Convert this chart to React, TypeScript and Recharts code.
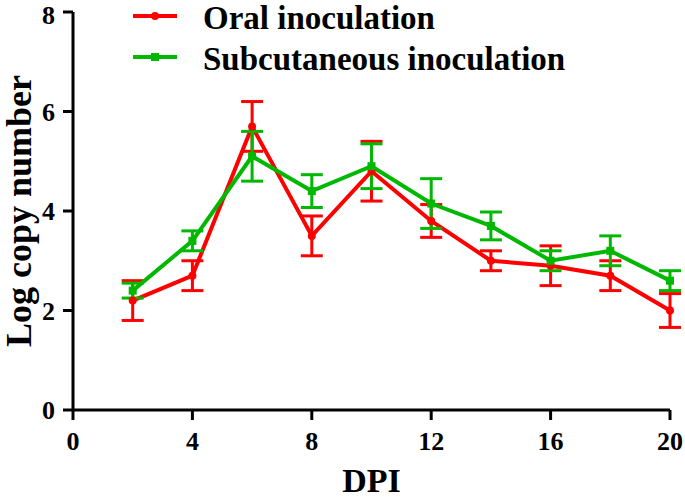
import { LineChart, Line, XAxis, YAxis, ErrorBar, Legend } from 'recharts';

const dpi = [2, 4, 6, 8, 10, 12, 14, 16, 18, 20];
const oral = [2.2, 2.7, 5.7, 3.5, 4.8, 3.8, 3.0, 2.9, 2.7, 2.0];
const oralErr = [0.4, 0.3, 0.5, 0.4, 0.6, 0.33, 0.2, 0.4, 0.3, 0.34];
const subcutaneous = [2.4, 3.4, 5.1, 4.4, 4.9, 4.15, 3.7, 3.0, 3.2, 2.6];
const subcutaneousErr = [0.15, 0.2, 0.5, 0.33, 0.45, 0.5, 0.28, 0.2, 0.3, 0.2];
const xTicks = [0, 4, 8, 12, 16, 20];
const yTicks = [0, 2, 4, 6, 8];

const RED = '#ff0000';
const GREEN = '#00b800';
const FONT = '"Liberation Serif", "Times New Roman", serif';

const data = dpi.map((d, i) => ({
  dpi: d,
  oral: oral[i],
  oralErr: oralErr[i],
  subcutaneous: subcutaneous[i],
  subcutaneousErr: subcutaneousErr[i],
}));

const RedDot = (props: any) => {
  const { cx, cy } = props;
  return <circle cx={cx} cy={cy} r={4} fill={RED} />;
};

const GreenDot = (props: any) => {
  const { cx, cy } = props;
  return <rect x={cx - 4} y={cy - 4} width={8} height={8} fill={GREEN} />;
};

const legendItems = [
  { label: 'Oral inoculation', color: RED, shape: 'circle' },
  { label: 'Subcutaneous inoculation', color: GREEN, shape: 'square' },
];

const CustomLegend = () => (
  <div style={{ fontFamily: FONT, fontWeight: 'bold', fontSize: 33, lineHeight: '36px', color: '#000' }}>
    {legendItems.map((item) => (
      <div key={item.label} style={{ display: 'flex', alignItems: 'flex-start', height: 41, whiteSpace: 'nowrap' }}>
        <svg width={44} height={12} style={{ marginRight: 26, marginTop: 10 }}>
          <line x1={0} y1={6} x2={44} y2={6} stroke={item.color} strokeWidth={4} />
          {item.shape === 'circle' ? (
            <circle cx={22} cy={6} r={4} fill={item.color} />
          ) : (
            <rect x={18} y={2} width={8} height={8} fill={item.color} />
          )}
        </svg>
        <span>{item.label}</span>
      </div>
    ))}
  </div>
);

const tickStyle = { fontFamily: FONT, fontWeight: 'bold', fontSize: 26, fill: '#000' };

export default function App() {
  return (
    <div style={{ position: 'absolute', left: 0, top: 0, background: '#fff' }}>
      <LineChart width={685} height={498} data={data} margin={{ top: 12, right: 15, left: 0, bottom: 0 }}>
        <XAxis
          dataKey="dpi"
          type="number"
          domain={[0, 20]}
          ticks={xTicks}
          stroke="#000"
          strokeWidth={3}
          tickSize={10}
          tickMargin={12}
          tick={tickStyle}
          height={88}
          label={{
            value: 'DPI',
            position: 'insideBottom',
            offset: 6,
            style: { fontFamily: FONT, fontWeight: 'bold', fontSize: 34, fill: '#000' },
          }}
        />
        <YAxis
          type="number"
          domain={[0, 8]}
          ticks={yTicks}
          stroke="#000"
          strokeWidth={3}
          tickSize={10}
          tickMargin={8}
          tick={tickStyle}
          width={73}
          label={{
            value: 'Log copy number',
            angle: -90,
            position: 'center',
            dx: -18,
            style: { fontFamily: FONT, fontWeight: 'bold', fontSize: 36, fill: '#000', textAnchor: 'middle' },
          }}
        />
        <Legend
          layout="vertical"
          verticalAlign="middle"
          align="center"
          content={<CustomLegend />}
          wrapperStyle={{ top: 0, left: 133, width: 'auto' }}
        />
        <Line
          dataKey="oral"
          stroke={RED}
          strokeWidth={4}
          dot={<RedDot />}
          isAnimationActive={false}
        >
          <ErrorBar dataKey="oralErr" width={11} stroke={RED} strokeWidth={3} isAnimationActive={false} />
        </Line>
        <Line
          dataKey="subcutaneous"
          stroke={GREEN}
          strokeWidth={4}
          dot={<GreenDot />}
          isAnimationActive={false}
        >
          <ErrorBar dataKey="subcutaneousErr" width={11} stroke={GREEN} strokeWidth={3} isAnimationActive={false} />
        </Line>
      </LineChart>
    </div>
  );
}
